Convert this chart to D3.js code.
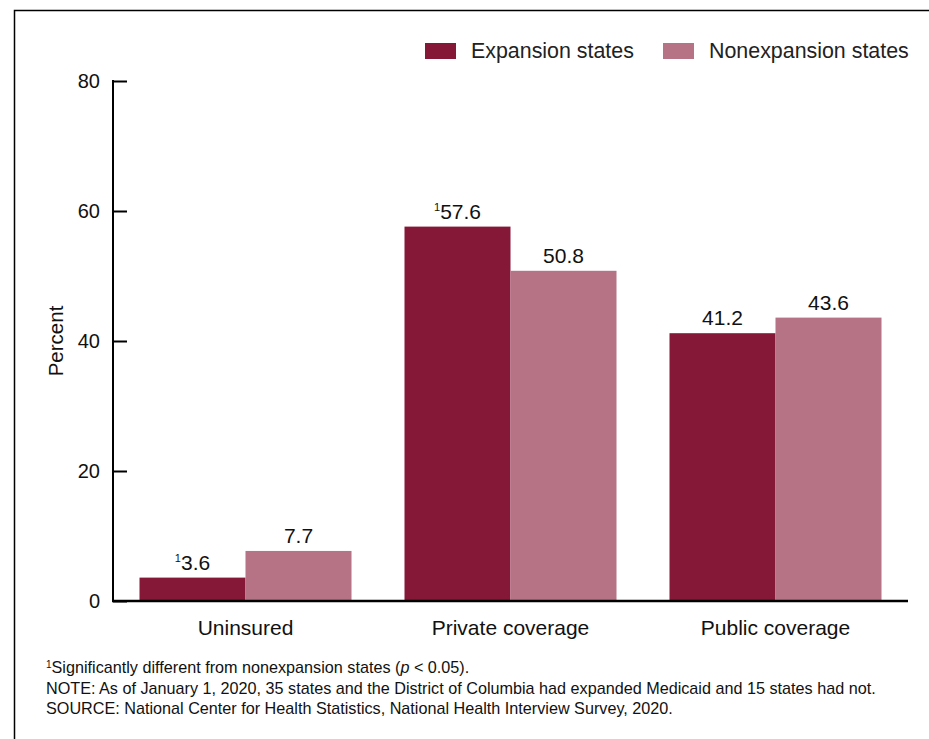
<!DOCTYPE html>
<html><head><meta charset="utf-8">
<script src="https://cdn.jsdelivr.net/npm/d3@7"></script>
<style>body{margin:0;background:#fff}svg{display:block;font-family:"Liberation Sans",Arial,sans-serif}</style>
</head><body><svg width="929" height="739"></svg>
<script>
const categories = ["Uninsured", "Private coverage", "Public coverage"];
const seriesNames = ["Expansion states", "Nonexpansion states"];
const expansion = [3.6, 57.6, 41.2];
const nonexpansion = [7.7, 50.8, 43.6];
const expansionSig = [true, true, false];
const nonexpansionSig = [false, false, false];
const yTicks = [0, 20, 40, 60, 80];
const colors = ["#851737", "#b67386"];
const footnotes = [
  ["¹Significantly different from nonexpansion states (", "p", " < 0.05)."],
  ["NOTE: As of January 1, 2020, 35 states and the District of Columbia had expanded Medicaid and 15 states had not."],
  ["SOURCE: National Center for Health Statistics, National Health Interview Survey, 2020."]
];

(function(){
const svg = d3.select("svg");
svg.append("path").attr("d","M14.5,739 L14.5,10.5 L929,10.5").attr("fill","none").attr("stroke","#000").attr("stroke-width",1.5);

const pL = 113, pR = 908, pT = 81, pB = 601;
const x0 = d3.scaleBand().domain(categories).range([pL, pR]).paddingInner(0.2).paddingOuter(0.1);
const x1 = d3.scaleBand().domain(seriesNames).range([0, x0.bandwidth()]);
const y = d3.scaleLinear().domain([0, 80]).range([pB, pT]);

const data = categories.map((c,i)=>({cat:c, vals:[
  {s:seriesNames[0], v:expansion[i], sig:expansionSig[i], ci:0},
  {s:seriesNames[1], v:nonexpansion[i], sig:nonexpansionSig[i], ci:1}]}));

const g = svg.append("g");
const groups = g.selectAll("g.grp").data(data).join("g").attr("class","grp").attr("transform",d=>`translate(${x0(d.cat)},0)`);
groups.selectAll("rect").data(d=>d.vals).join("rect")
  .attr("x",d=>x1(d.s)).attr("width",x1.bandwidth())
  .attr("y",d=>y(d.v)).attr("height",d=>y(0)-y(d.v))
  .attr("fill",d=>colors[d.ci]);
const lab = groups.selectAll("text.val").data(d=>d.vals).join("text").attr("class","val")
  .attr("x",d=>x1(d.s)+x1.bandwidth()/2).attr("y",d=>y(d.v)-8)
  .attr("text-anchor","middle").attr("font-size",21).attr("fill","#111");
lab.each(function(d){
  const t=d3.select(this);
  if(d.sig){ t.append("tspan").text("1").attr("font-size",11).attr("dy",-8); t.append("tspan").text(d.v.toFixed(1)).attr("dy",8); }
  else t.text(d.v.toFixed(1));
});

const yAxis = d3.axisLeft(y).tickValues(yTicks).tickSize(-14).tickPadding(13);
const ya = svg.append("g").attr("transform",`translate(${pL},0)`).call(yAxis);
ya.select(".domain").remove();
ya.selectAll(".tick line").attr("stroke","#000").attr("stroke-width",2);
ya.selectAll(".tick text").attr("font-size",20).attr("font-family","Liberation Sans, Arial, sans-serif").attr("fill","#111");
svg.append("line").attr("x1",pL).attr("x2",pL).attr("y1",pT-1).attr("y2",pB+1).attr("stroke","#000").attr("stroke-width",2);

const xAxis = d3.axisBottom(x0).tickSize(0).tickPadding(19);
const xa = svg.append("g").attr("transform",`translate(0,${pB})`).call(xAxis);
xa.select(".domain").remove();
xa.selectAll(".tick text").attr("font-size",21).attr("font-family","Liberation Sans, Arial, sans-serif").attr("fill","#111");
svg.append("line").attr("x1",pL-1).attr("x2",pR).attr("y1",pB).attr("y2",pB).attr("stroke","#000").attr("stroke-width",2.5);

svg.append("text").attr("transform","translate(63,341) rotate(-90)").attr("text-anchor","middle").attr("font-size",20.5).attr("fill","#111").text("Percent");

const legX = [425, 663];
seriesNames.forEach((s,i)=>{
  svg.append("rect").attr("x",legX[i]).attr("y",43).attr("width",31).attr("height",16).attr("fill",colors[i]);
  svg.append("text").attr("x",legX[i]+46).attr("y",58).attr("font-size",21.4).attr("fill","#222").text(s);
});

const fy = [673, 694, 714];
footnotes.forEach((parts,i)=>{
  const t = svg.append("text").attr("x",46).attr("y",fy[i]).attr("font-size",16.2).attr("fill","#111");
  parts.forEach((p,j)=>{
    if(i===0 && j===0){ t.append("tspan").text("1").attr("font-size",10).attr("dy",-5); t.append("tspan").text(p.slice(1)).attr("dy",5); }
    else { const ts=t.append("tspan").text(p); if(p==="p") ts.attr("font-style","italic"); }
  });
});
})();
</script></body></html>
